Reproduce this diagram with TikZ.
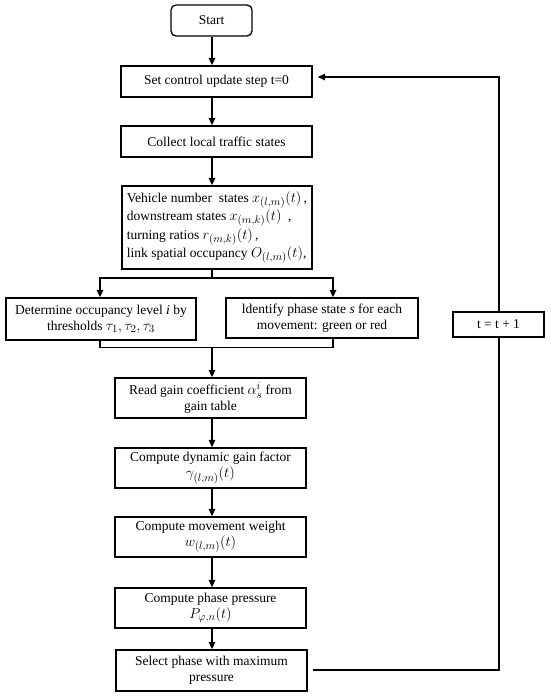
\documentclass[tikz,border=0pt]{standalone}
\usepackage{fontspec}
\setmainfont{Liberation Serif}
\usetikzlibrary{arrows.meta,calc}
\newcommand{\mth}[1]{{\fontsize{15}{16}\selectfont$#1$}}
\begin{document}
\begin{tikzpicture}[x=1pt,y=-1pt,
  font=\fontsize{13.5}{16}\selectfont,
  box/.style={draw, line width=1.3pt, inner sep=1pt, align=center},
  arr/.style={-{Triangle[length=7.5pt,width=6.5pt]}, line width=1.3pt},
  ln/.style={line width=1.3pt}]
\useasboundingbox (0,0) rectangle (550,697);

\node[box, rounded corners=5pt, minimum width=81pt, minimum height=31pt] (start) at (211.5,20.5) {Start};
\node[box, minimum width=191pt, minimum height=31pt] (set) at (216.5,81.5) {Set control update step t=0};
\node[box, minimum width=191pt, minimum height=31pt] (collect) at (216.5,141.5) {Collect local traffic states};
\node[box, align=left, minimum width=190pt, minimum height=83pt, font=\fontsize{13.5}{18.5}\selectfont] (vehicle) at (217,227.5)
  {Vehicle number\ \ states \mth{x_{(l,m)}(t)}\,,\\ downstream states \mth{x_{(m,k)}(t)}\ \ ,\\ turning ratios \mth{r_{(m,k)}(t)}\,,\\ link spatial occupancy \mth{O_{(l,m)}(t)},};
\node[box, minimum width=190pt, minimum height=42pt] (determine) at (101,319)
  {Determine occupancy level \textit{i} by\\ thresholds \mth{\tau_1,\tau_2,\tau_3}};
\node[box, minimum width=192pt, minimum height=40pt] (identify) at (322,318)
  {ldentify phase state \textit{s} for each\\ movement: green or red};
\node[box, minimum width=191pt, minimum height=40pt] (read) at (210.5,398)
  {Read gain coefficient \mth{\alpha_s^i}\ from\\ gain table};
\node[box, minimum width=191pt, minimum height=40pt] (dyn) at (210.5,468)
  {Compute dynamic gain factor\\ \mth{\gamma_{(l,m)}(t)}};
\node[box, minimum width=191pt, minimum height=40pt] (mov) at (210.5,537)
  {Compute movement weight\\ \mth{w_{(l,m)}(t)}};
\node[box, minimum width=191pt, minimum height=40pt] (press) at (210.5,608)
  {Compute phase pressure\\ \mth{P_{\varphi,n}(t)}};
\node[box, minimum width=191pt, minimum height=41pt] (select) at (211.5,670.5)
  {Select phase with maximum\\ pressure};
\node[box, minimum width=91pt, minimum height=25pt] (tbox) at (498.5,324.5) {t = t + 1};

\coordinate (axis) at (212,0);
\coordinate (split) at (212,278);
\coordinate (sl) at (100,278);
\coordinate (sr) at (333,278);
\coordinate (merge) at (212,347.5);
\coordinate (ml) at (100,347.5);
\coordinate (mr) at (333,347.5);
\coordinate (loopb) at (499,670);
\coordinate (loopt) at (499,77);

\draw[arr] (start.south -| axis) -- (set.north -| axis);
\draw[arr] (set.south -| axis) -- (collect.north -| axis);
\draw[arr] (collect.south -| axis) -- (vehicle.north -| axis);
\draw[ln] (vehicle.south -| axis) -- (split);
\draw[arr] (split) -- (sl) -- (determine.north -| sl);
\draw[arr] (split) -- (sr) -- (identify.north -| sr);
\draw[ln] (determine.south -| ml) -- (ml) -- (mr) -- (identify.south -| mr);
\draw[arr] (merge) -- (read.north -| axis);
\draw[arr] (read.south -| axis) -- (dyn.north -| axis);
\draw[arr] (dyn.south -| axis) -- (mov.north -| axis);
\draw[arr] (mov.south -| axis) -- (press.north -| axis);
\draw[arr] (press.south -| axis) -- (select.north -| axis);
\draw[ln, shorten <=5pt] (select.east |- loopb) -- (loopb) -- (tbox.south -| loopb);
\draw[arr, shorten >=5pt] (tbox.north -| loopt) -- (loopt) -- (set.east |- loopt);
\end{tikzpicture}
\end{document}
